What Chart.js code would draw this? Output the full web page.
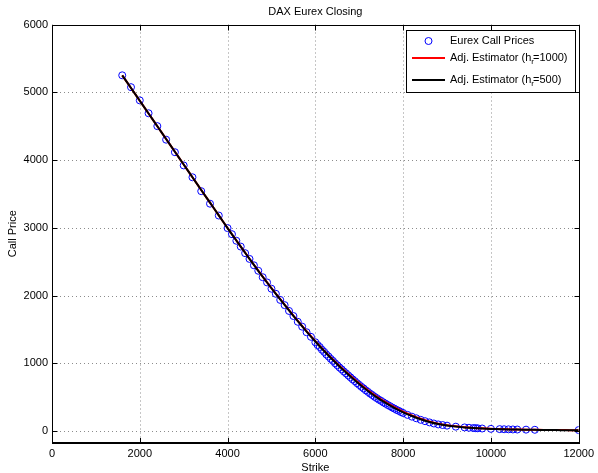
<!DOCTYPE html>
<html>
<head>
<meta charset="utf-8">
<script src="https://cdn.jsdelivr.net/npm/chart.js@4.4.1/dist/chart.umd.min.js"></script>
<style>
  body { margin: 0; background: #fff; }
  #wrap { width: 598px; height: 473px; }
</style>
</head>
<body>
<div id="wrap"><canvas id="callCanvas"></canvas></div>
<script>
// observed Eurex call prices (strike, price)
var priceStrikes = [
	1600, 1800, 2000, 2200, 2400, 2600, 2800, 3000, 3200, 3400, 3600, 3800, 4000,
	4100, 4200, 4300, 4400, 4500, 4600, 4700, 4800, 4900, 5000,
	5100, 5200, 5300, 5400, 5500, 5600, 5700, 5800, 5900, 6000,
	6050, 6100, 6150, 6200, 6250, 6300, 6350, 6400, 6450, 6500,
	6550, 6600, 6650, 6700, 6750, 6800, 6850, 6900, 6950, 7000,
	7050, 7100, 7150, 7200, 7250, 7300, 7350, 7400, 7450, 7500,
	7550, 7600, 7650, 7700, 7750, 7800, 7850, 7900, 7950, 8000,
	8100, 8200, 8300, 8400, 8500, 8600, 8700, 8800,
	8900, 9000, 9200, 9400, 9500, 9600, 9650, 9700, 9800, 10000,
	10200, 10300, 10400, 10500, 10600, 10800, 11000, 12000
];
var callPrices = [
	5250, 5075, 4880, 4690, 4500, 4300, 4115, 3920, 3745, 3540, 3355, 3180, 2995,
	2905, 2808, 2722, 2625, 2540, 2446, 2365, 2270, 2193, 2100,
	2025, 1935, 1858, 1772, 1697, 1612, 1540, 1458, 1390, 1310,
	1270, 1240, 1200, 1168, 1130, 1100, 1065, 1035, 1000, 970,
	938, 910, 878, 850, 820, 792, 762, 736, 706, 680,
	652, 628, 600, 577, 551, 530, 505, 485, 462, 444,
	422, 404, 384, 367, 347, 331, 312, 298, 280, 266,
	238, 212, 188, 165, 145, 127, 111, 97,
	88, 79, 64, 53, 48, 44, 42, 40, 37, 32,
	28, 26, 25, 23, 22, 20, 18, 14
];

// estimator curves
var curveStrikes = [
	1600, 1800, 2000, 2200, 2400, 2600, 2800, 3000, 3200, 3400, 3600, 3800, 4000,
	4200, 4400, 4600, 4800, 5000, 5200, 5400, 5600, 5800, 6000,
	6200, 6400, 6600, 6800, 7000, 7200, 7400, 7600, 7800, 8000,
	8200, 8400, 8600, 8800, 9000, 9200, 9400, 9600, 9800, 10000,
	10200, 10400, 10600, 10800, 11000, 11200, 11400, 11600, 11800, 12000
];
var estH1000 = [
	5250, 5062, 4874, 4686, 4498, 4310, 4122, 3934, 3746, 3558, 3370, 3183, 2996,
	2813, 2632, 2454, 2279, 2110, 1945, 1783, 1626, 1474, 1327,
	1187, 1055, 930, 814, 703, 600, 507, 426, 352, 286,
	231, 181, 140, 108, 85, 69, 56, 46, 39, 33,
	28, 25, 22, 20, 18, 16, 15, 14, 13, 12
];
var estH500 = [
	5250, 5062, 4874, 4686, 4498, 4310, 4122, 3934, 3746, 3558, 3370, 3183, 2995,
	2812, 2631, 2452, 2277, 2107, 1942, 1779, 1621, 1468, 1321,
	1180, 1047, 923, 806, 694, 590, 497, 416, 342, 276,
	222, 173, 133, 102, 80, 65, 53, 44, 37, 31,
	27, 24, 21, 19, 17, 15, 14, 13, 12, 11
];

var xTicks = [0, 2000, 4000, 6000, 8000, 10000, 12000];
var yTicks = [0, 1000, 2000, 3000, 4000, 5000, 6000];

var fontFam = "'Liberation Sans', Arial, Helvetica, sans-serif";

function pairs(xs, ys){
	var out = [];
	for (var i = 0; i < xs.length; i++) { out.push({x: xs[i], y: ys[i]}); }
	return out;
}

// grid, box, inward ticks, title and legend in matlab style
var matlabLook = {
	id: "matlabLook",
	beforeDatasetsDraw: function(chart){
		var ctx = chart.ctx, a = chart.chartArea;
		var xs = chart.scales.x, ys = chart.scales.y;
		ctx.save();
		ctx.strokeStyle = "#8c8c8c";
		ctx.lineWidth = 1;
		ctx.setLineDash([1, 3]);
		xTicks.forEach(function(v){
			var px = Math.round(xs.getPixelForValue(v)) + 0.5;
			ctx.beginPath(); ctx.moveTo(px, a.top); ctx.lineTo(px, a.bottom); ctx.stroke();
		});
		yTicks.forEach(function(v){
			var py = Math.round(ys.getPixelForValue(v)) + 0.5;
			ctx.beginPath(); ctx.moveTo(a.left, py); ctx.lineTo(a.right, py); ctx.stroke();
		});
		ctx.restore();
	},
	afterDatasetsDraw: function(chart){
		var ctx = chart.ctx, a = chart.chartArea;
		var xs = chart.scales.x, ys = chart.scales.y;
		var L = Math.round(a.left) + 0.5, R = Math.round(a.right) + 0.5;
		var T = Math.round(a.top) + 0.5, B = Math.round(a.bottom);
		ctx.save();
		ctx.strokeStyle = "#000";
		ctx.lineWidth = 1;
		ctx.beginPath();
		ctx.moveTo(L, B); ctx.lineTo(L, T); ctx.lineTo(R, T); ctx.lineTo(R, B);
		ctx.stroke();
		ctx.lineWidth = 2;
		ctx.beginPath(); ctx.moveTo(L - 0.5, B); ctx.lineTo(R + 0.5, B); ctx.stroke();
		ctx.lineWidth = 1;
		xTicks.forEach(function(v){
			var px = Math.round(xs.getPixelForValue(v)) + 0.5;
			ctx.beginPath(); ctx.moveTo(px, B); ctx.lineTo(px, B - 5); ctx.stroke();
			ctx.beginPath(); ctx.moveTo(px, T); ctx.lineTo(px, T + 5); ctx.stroke();
		});
		yTicks.forEach(function(v){
			var py = Math.round(ys.getPixelForValue(v)) + 0.5;
			ctx.beginPath(); ctx.moveTo(L, py); ctx.lineTo(L + 5, py); ctx.stroke();
			ctx.beginPath(); ctx.moveTo(R, py); ctx.lineTo(R - 5, py); ctx.stroke();
		});
		ctx.restore();
	},
	afterDraw: function(chart){
		var ctx = chart.ctx, a = chart.chartArea;
		ctx.save();
		// title
		ctx.fillStyle = "#000";
		ctx.font = "11px " + fontFam;
		ctx.textAlign = "center";
		ctx.textBaseline = "middle";
		ctx.fillText("DAX Eurex Closing", (a.left + a.right) / 2, 12);

		// legend box
		var bx = 406, by = 30, bw = 169, bh = 62;
		ctx.fillStyle = "#fff";
		ctx.fillRect(bx, by, bw, bh);
		ctx.strokeStyle = "#000";
		ctx.lineWidth = 1;
		ctx.strokeRect(bx + 0.5, by + 0.5, bw, bh);

		ctx.textAlign = "left";
		ctx.fillStyle = "#000";
		// row 1
		ctx.strokeStyle = "#0000ff";
		ctx.beginPath(); ctx.arc(428.5, 41, 3.5, 0, Math.PI * 2); ctx.stroke();
		ctx.fillText("Eurex Call Prices", 450, 41);
		// row 2, 3
		var rows = [{y: 58, c: "#ff0000", h: "1000"}, {y: 80, c: "#000000", h: "500"}];
		rows.forEach(function(r){
			ctx.strokeStyle = r.c;
			ctx.lineWidth = 2;
			ctx.beginPath(); ctx.moveTo(412, r.y); ctx.lineTo(445, r.y); ctx.stroke();
			ctx.font = "11px " + fontFam;
			var t1 = "Adj. Estimator (h";
			ctx.fillText(t1, 450, r.y);
			var w1 = ctx.measureText(t1).width;
			ctx.font = "8px " + fontFam;
			ctx.fillText("r", 450 + w1, r.y + 4);
			var w2 = ctx.measureText("r").width;
			ctx.font = "11px " + fontFam;
			ctx.fillText("=" + r.h + ")", 450 + w1 + w2 - 1, r.y);
		});
		ctx.restore();
	}
};

var ctx = document.getElementById("callCanvas");
var callChart = new Chart(ctx, {
	type: "scatter",
	data: {
		datasets: [
			{
				label: "Eurex Call Prices",
				data: pairs(priceStrikes, callPrices),
				showLine: false,
				pointStyle: "circle",
				pointRadius: 3.5,
				pointBorderWidth: 1,
				pointBorderColor: "#0000ff",
				pointBackgroundColor: "rgba(0,0,0,0)",
				order: 2
			},
			{
				label: "Adj. Estimator (h=1000)",
				data: pairs(curveStrikes, estH1000),
				showLine: true,
				borderColor: "#ff0000",
				borderWidth: 2,
				pointRadius: 0,
				tension: 0.3,
				order: 1
			},
			{
				label: "Adj. Estimator (h=500)",
				data: pairs(curveStrikes, estH500),
				showLine: true,
				borderColor: "#000000",
				borderWidth: 2,
				pointRadius: 0,
				tension: 0.3,
				order: 0
			}
		]
	},
	options: {
		responsive: true,
		maintainAspectRatio: false,
		devicePixelRatio: 1,
		animation: false,
		layout: { padding: { top: 24.5, right: 18, left: 0, bottom: 0 } },
		plugins: {
			legend: { display: false },
			title: { display: false },
			tooltip: { enabled: false }
		},
		scales: {
			x: {
				type: "linear",
				min: 0,
				max: 12000,
				afterBuildTicks: function(s){ s.ticks = xTicks.map(function(v){ return {value: v}; }); },
				afterFit: function(s){ s.height = 30; },
				grid: { display: false, drawTicks: false },
				border: { display: false },
				ticks: {
					padding: 4,
					maxRotation: 0,
					color: "#000",
					font: { family: fontFam, size: 11 },
					callback: function(v){ return String(v); }
				},
				title: {
					display: true,
					text: "Strike",
					color: "#000",
					font: { family: fontFam, size: 11 },
					padding: { top: 0, bottom: -2 }
				}
			},
			y: {
				type: "linear",
				min: -177,
				max: 6000,
				afterBuildTicks: function(s){ s.ticks = yTicks.map(function(v){ return {value: v}; }); },
				afterFit: function(s){ s.width = 52; },
				grid: { display: false, drawTicks: false },
				border: { display: false },
				ticks: {
					padding: 4,
					color: "#000",
					font: { family: fontFam, size: 11 },
					callback: function(v){ return String(v); }
				},
				title: {
					display: true,
					text: "Call Price",
					color: "#000",
					font: { family: fontFam, size: 11 },
					padding: { top: 6, bottom: 0 }
				}
			}
		}
	},
	plugins: [matlabLook]
});
</script>
</body>
</html>
